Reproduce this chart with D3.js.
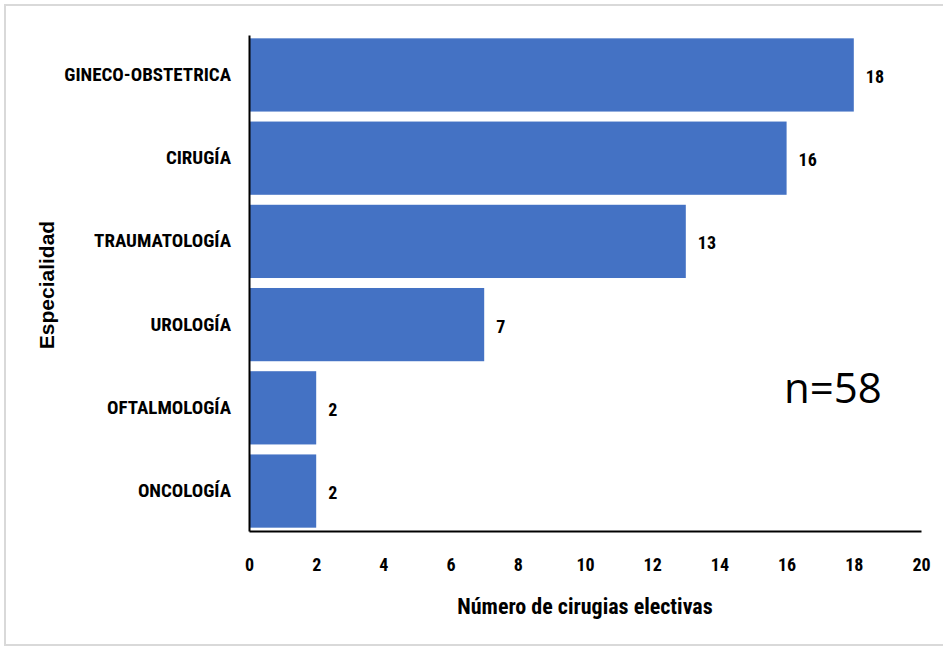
<!DOCTYPE html>
<html>
<head>
<meta charset="utf-8">
<script src="https://cdn.jsdelivr.net/npm/d3@7"></script>
<style>
  body { margin: 0; background: #fff; }
  svg { display: block; }
</style>
</head>
<body>
<svg width="943" height="648"></svg>
<script>
// Data
const especialidades = ["GINECO-OBSTETRICA", "CIRUGÍA", "TRAUMATOLOGÍA", "UROLOGÍA", "OFTALMOLOGÍA", "ONCOLOGÍA"];
const cirugias = [18, 16, 13, 7, 2, 2];
const xTicks = [0, 2, 4, 6, 8, 10, 12, 14, 16, 18, 20];

const svg = d3.select("svg"),
  width = +svg.attr("width"),
  height = +svg.attr("height");

const labelFont = "'Liberation Sans Narrow', 'Roboto Condensed', Roboto, sans-serif";

// frame
svg.append("rect")
  .attr("x", 5).attr("y", 5)
  .attr("width", width - 4).attr("height", height - 8)
  .attr("fill", "none")
  .attr("stroke", "#d9d9d9")
  .attr("stroke-width", 2);

const data = especialidades.map((d, i) => ({ name: d, value: cirugias[i] }));

const x = d3.scaleLinear()
  .domain([0, 20])
  .range([249, 921]);

const y = d3.scaleBand()
  .domain(especialidades)
  .range([35, 531])
  .paddingInner(0.12)
  .paddingOuter(0.04);

// bars
svg.append("g")
  .selectAll("rect")
  .data(data)
  .join("rect")
  .attr("x", x(0))
  .attr("y", d => y(d.name))
  .attr("width", d => x(d.value) - x(0))
  .attr("height", y.bandwidth())
  .attr("fill", "#4472c4");

// value labels
svg.append("g")
  .selectAll("text")
  .data(data)
  .join("text")
  .attr("x", d => x(d.value) + 12)
  .attr("y", d => y(d.name) + y.bandwidth() / 2 + 8)
  .text(d => d.value)
  .style("font-family", labelFont)
  .style("font-weight", "bold")
  .style("font-size", "18px")
  .attr("fill", "#000");

// x axis
const xAxis = svg.append("g")
  .attr("transform", "translate(0,531)")
  .call(d3.axisBottom(x).tickValues(xTicks).tickSize(0).tickPadding(27));
xAxis.select(".domain").attr("stroke", "#000").attr("stroke-width", 2);
xAxis.selectAll("text")
  .style("font-family", labelFont)
  .style("font-weight", "bold")
  .style("font-size", "18px")
  .attr("fill", "#000");

// y axis
const yAxis = svg.append("g")
  .attr("transform", "translate(249,0)")
  .call(d3.axisLeft(y).tickSize(0).tickPadding(18));
yAxis.select(".domain").attr("stroke", "#000").attr("stroke-width", 2);
yAxis.selectAll("text")
  .style("font-family", labelFont)
  .style("font-weight", "bold")
  .style("font-size", "19px")
  .attr("fill", "#000");

// axis titles
svg.append("text")
  .attr("x", 585)
  .attr("y", 614)
  .attr("text-anchor", "middle")
  .text("Número de cirugias electivas")
  .style("font-family", labelFont)
  .style("font-weight", "bold")
  .style("font-size", "22px");

svg.append("text")
  .attr("transform", "translate(54,285) rotate(-90)")
  .attr("text-anchor", "middle")
  .text("Especialidad")
  .style("font-family", "'Liberation Sans', Arial, sans-serif")
  .style("font-weight", "bold")
  .style("font-size", "21px");

// n annotation
svg.append("text")
  .attr("x", 784)
  .attr("y", 403)
  .text("n=58")
  .style("font-family", "'Open Sans', sans-serif")
  .style("font-size", "42px");
</script>
</body>
</html>
